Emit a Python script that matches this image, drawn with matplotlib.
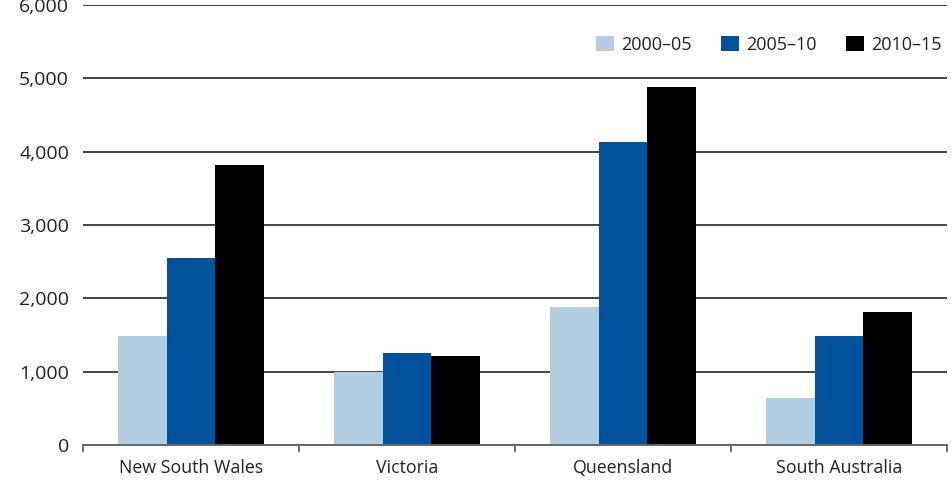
import numpy as np
import matplotlib
matplotlib.use("Agg")
import matplotlib.pyplot as plt
from matplotlib.ticker import FuncFormatter

plt.rcParams['font.family'] = ['Open Sans', 'DejaVu Sans']

# Data
states = ['New South Wales', 'Victoria', 'Queensland', 'South Australia']
series = ['2000\u201305', '2005\u201310', '2010\u201315']
v_2000_05 = [1480, 1000, 1880, 640]
v_2005_10 = [2550, 1250, 4130, 1480]
v_2010_15 = [3820, 1220, 4880, 1820]
colors = ['#b3cde3', '#00539b', '#000000']

fig = plt.figure(figsize=(9.52, 4.86), dpi=100)
ax = fig.add_axes([83/952, 1 - 445/486, 864/952, 440/486])

x = np.arange(len(states))
w = 0.225
for i, vals in enumerate([v_2000_05, v_2005_10, v_2010_15]):
    ax.bar(x + (i - 1) * w, vals, width=w, color=colors[i], label=series[i], zorder=3)

ax.set_xlim(-0.5, len(states) - 0.5)
ax.set_ylim(0, 6000)
ax.set_yticks(range(0, 6001, 1000))
ax.yaxis.set_major_formatter(FuncFormatter(lambda v, p: f'{int(v):,}'))
ax.grid(axis='y', color='#222222', linewidth=1.2, zorder=0)
ax.tick_params(axis='y', length=0, pad=10, labelsize=14, labelcolor='#222222')

# category labels centered, ticks at group boundaries
ax.set_xticks(x)
ax.set_xticklabels(states)
ax.set_xticks(np.arange(-0.5, len(states)), minor=True)
ax.tick_params(axis='x', which='major', length=0, pad=10, labelsize=12.8, labelcolor='#222222')
ax.tick_params(axis='x', which='minor', length=5, width=1.2, color='#555555', direction='out')

for s in ['left', 'right', 'top']:
    ax.spines[s].set_visible(False)
ax.spines['bottom'].set_color('#666666')
ax.spines['bottom'].set_linewidth(1.4)
ax.spines['bottom'].set_zorder(4)

leg = ax.legend(loc='upper right', ncol=3, frameon=False, fontsize=13,
                handlelength=1.0, handleheight=0.9, columnspacing=1.6,
                handletextpad=0.4, borderaxespad=0.2, bbox_to_anchor=(1.006, 0.955))
for t in leg.get_texts():
    t.set_color('#222222')

fig.savefig('out.png', dpi=100)
